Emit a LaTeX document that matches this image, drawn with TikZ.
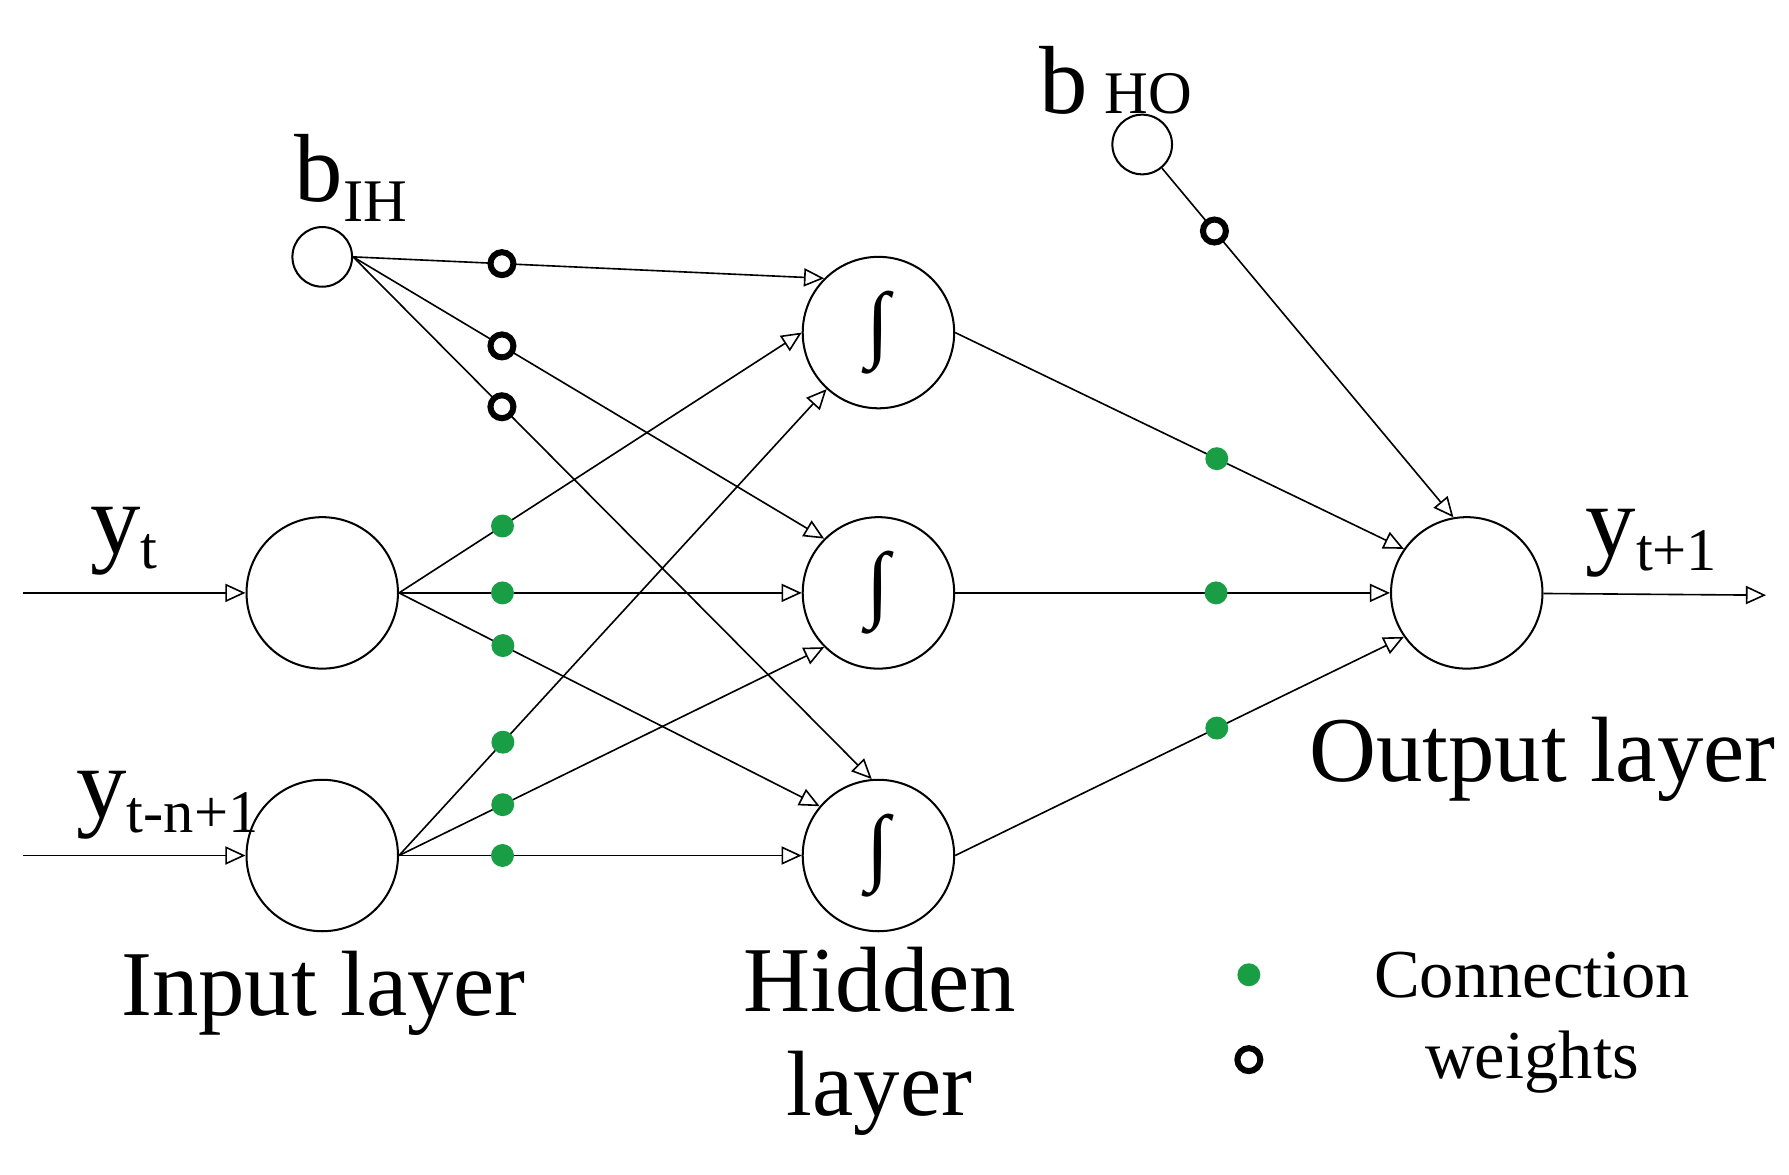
\documentclass[tikz,border=0pt]{standalone}
\usepackage{fontspec}
\setmainfont{Liberation Serif}
\usetikzlibrary{arrows.meta}
\definecolor{wgreen}{HTML}{1A9E45}
\begin{document}
\begin{tikzpicture}[x=0.01cm,y=-0.01cm,
  big/.style={draw,line width=0.5pt,circle,minimum size=1.32cm,inner sep=0pt,font=\fontsize{21}{21}\selectfont},
  bias/.style={draw,line width=0.5pt,circle,minimum size=0.52cm,inner sep=0pt},
  conn/.style={line width=0.4pt,-{Triangle[open,length=5pt,width=4.5pt]}},
  gdot/.style={circle,fill=wgreen,inner sep=0pt,minimum size=0.2cm},
  odot/.style={circle,draw=black,line width=1.5pt,fill=white,inner sep=0pt,minimum size=0.2cm},
  lab/.style={font=\fontsize{23}{26}\selectfont,align=center},
  leg/.style={font=\fontsize{17}{20}\selectfont,align=center},
  ylab/.style={font=\fontsize{25}{25}\selectfont}]
\useasboundingbox (0,0) rectangle (1560,1024);
\node[big] (I1) at (281,517) {};
\node[big] (I2) at (281,746) {};
\node[big] (H1) at (766,290) {∫};
\node[big] (H2) at (766,517) {∫};
\node[big] (H3) at (766,746) {∫};
\node[big] (O) at (1279,517) {};
\node[bias] (BIH) at (281,224) {};
\node[bias] (BHO) at (996,126) {};
\coordinate (in1) at (20,517);
\coordinate (in2) at (20,746);
\coordinate (out) at (1540,519);
\draw[conn] (in1) -- (I1);
\draw[conn] (in2) -- (I2);
\draw[conn] (O) -- (out);
\draw[conn] (I1.east) -- node[gdot,pos=.257]{} (H1.west);
\draw[conn] (I1.east) -- node[gdot,pos=.257]{} (H2.west);
\draw[conn] (I1.east) -- node[gdot,pos=.247]{} (H3.140);
\draw[conn] (I2.east) -- node[gdot,pos=.243]{} (H1);
\draw[conn] (I2.east) -- node[gdot,pos=.244]{} (H2.225);
\draw[conn] (I2.east) -- node[gdot,pos=.257]{} (H3.west);
\draw[conn] (BIH.east) -- node[odot,pos=.316]{} (H1.135);
\draw[conn] (BIH.east) -- node[odot,pos=.316]{} (H2.135);
\draw[conn] (BIH.east) -- node[odot,pos=.287]{} (H3.95);
\draw[conn] (H1.east) -- node[gdot,pos=.583]{} (O.145);
\draw[conn] (H2.east) -- node[gdot,pos=.6]{} (O.west);
\draw[conn] (H3.east) -- node[gdot,pos=.583]{} (O.215);
\draw[conn] (BHO) -- node[odot,pos=.18]{} (O.100);
\node[ylab] (l1) at (108,472) {y\raisebox{-0.15em}{\fontsize{15}{15}\selectfont t}};
\node[ylab] (l2) at (146,702) {y\raisebox{-0.15em}{\fontsize{15}{15}\selectfont t-n+1}};
\node[ylab] (l3) at (1440,474) {y\raisebox{-0.15em}{\fontsize{15}{15}\selectfont t+1}};
\node[font=\fontsize{24}{24}\selectfont] (l4) at (306,155) {b\raisebox{-0.2em}{\fontsize{15}{15}\selectfont IH}};
\node[font=\fontsize{24}{24}\selectfont] (l5) at (973,70) {b\,{\fontsize{15}{15}\selectfont HO}};
\node[lab] (t1) at (282,866) {Input layer};
\node[lab] (t2) at (767,908) {Hidden\\layer};
\node[lab] (t3) at (1345,662) {Output layer};
\node[gdot] (g1) at (1089,850) {};
\node[odot] (g2) at (1089,924) {};
\node[leg] (t4) at (1336,892) {Connection\\weights};
\end{tikzpicture}
\end{document}
